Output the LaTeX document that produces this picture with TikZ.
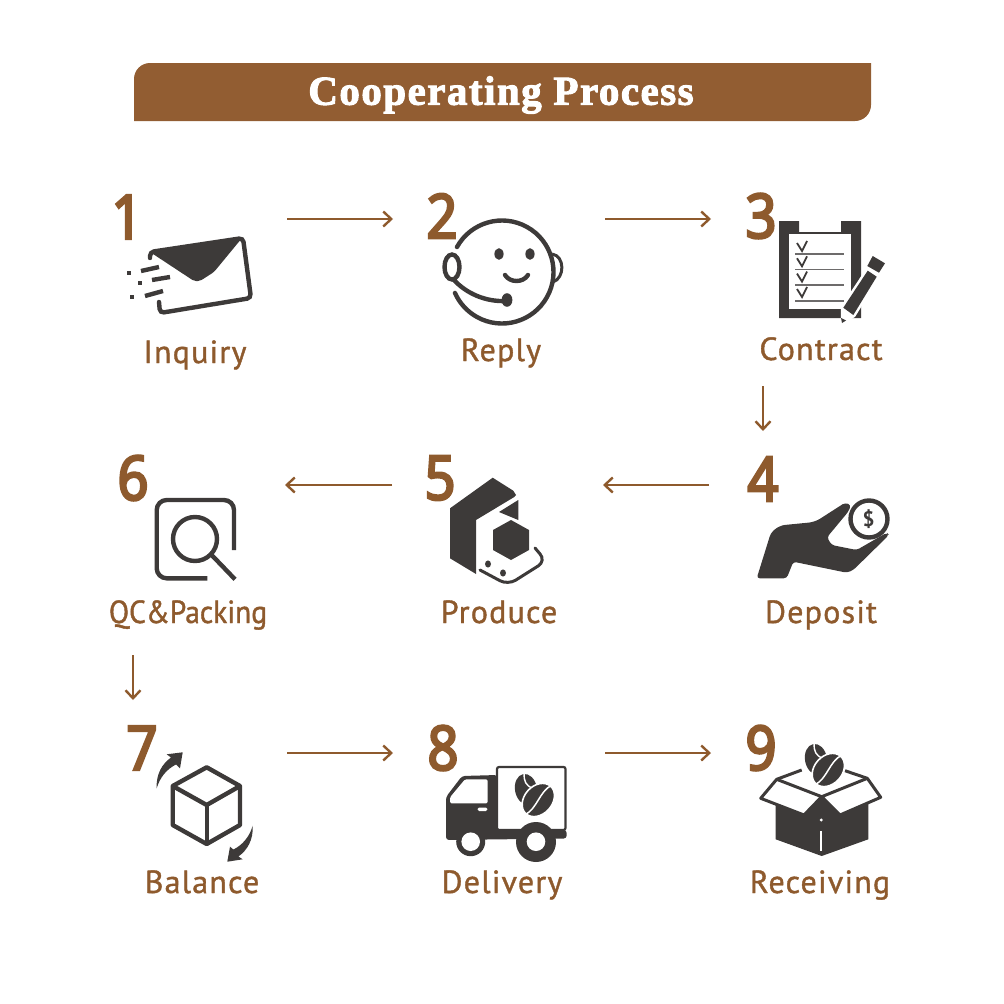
\documentclass[tikz,border=0pt]{standalone}
\usepackage{fontspec}
\usetikzlibrary{arrows.meta}
\setmainfont{PT Sans}
\newfontfamily\titlefont[LetterSpace=3.6,FakeBold=2.4]{Liberation Serif Bold}
\newfontfamily\labelfont[LetterSpace=3.8,FakeBold=1.2]{PT Sans}
\newfontfamily\numfont[FakeStretch=0.88,FakeBold=4.5]{Open Sans}
\definecolor{brownbar}{HTML}{925D32}
\definecolor{brownline}{HTML}{8E5A2D}
\definecolor{darkicon}{HTML}{3D3A39}
\tikzset{
  flowarrow/.style={draw=brownline,line width=2.4pt,-{Straight Barb[length=8pt,width=15pt,line width=2.4pt]}},
  stepnum/.style={text=brownline,font=\numfont\fontsize{61}{61}\selectfont,inner sep=0pt},
  steplabel/.style={text=brownline,anchor=base,inner sep=0pt,font=\labelfont\fontsize{32}{32}\selectfont},
  iconline/.style={draw=darkicon,line width=4.4pt},
  iconfill/.style={fill=darkicon,draw=none},
}
\newcommand{\coffeebean}[2]{%
\begin{scope}[shift={(#1,#2)}]
\begin{scope}[shift={(-12.3,-10.7)},rotate=10]
\fill[darkicon](0,0)ellipse[x radius=11,y radius=15.5];
\draw[white,line width=1.4pt](1,-16)..controls(-1,-8)and(1,-4)..(6,0);
\end{scope}
\begin{scope}[rotate=48]
\filldraw[fill=darkicon,draw=white,line width=1.6pt](0,0)ellipse[x radius=18.5,y radius=14];
\draw[white,line width=1.5pt](-20,0)..controls(-7,5)and(7,-5)..(20,0);
\end{scope}
\end{scope}}
\begin{document}
\begin{tikzpicture}[x=1pt,y=-1pt]
\useasboundingbox(0,0)rectangle(1004,1004);
%title bar
\fill[brownbar](134,121)--(134,79)arc(180:270:16)--(871,63)--(871,105)arc(0:90:16)--cycle;
\node[text=white,inner sep=0pt,font=\titlefont\fontsize{41}{41}\selectfont](title)at(501,95){Cooperating Process};
%numbers
\foreach \i/\x/\y in {1/127/217,2/442/216,3/761/216,4/763/479,5/440/478,6/133/478,7/142/748,8/443/748,9/761/748}{\node[stepnum](n\i)at(\x,\y){\i};}
%labels
\foreach \n/\x/\y/\t in {inquiry/195/363/Inquiry,reply/501/361/Reply,contract/821/360/Contract,deposit/821/623/Deposit,produce/499/623/Produce,qcpacking/188/623/{\addfontfeature{LetterSpace=0,FakeStretch=0.92}QC\&Packing},balance/202/893/Balance,delivery/502/893/Delivery,receiving/820/893/Receiving}{\node[steplabel](\n)at(\x,\y){\t};}
%connectors
\foreach \n/\xa/\ya/\xb/\yb in {a/287/219/393/219,b/605/219/711/219,c/763/386/763/431,d/709/485/603/485,e/392/485/285/485,f/133/655/133/700,g/287/753/393/753,h/605/753/711/753}{
\coordinate(\n s)at(\xa,\ya);\coordinate(\n t)at(\xb,\yb);
\draw[flowarrow](\n s)--(\n t);}
%envelope
\fill[darkicon,rounded corners=2pt](150,252)--(242,238)--(214,272)--(200,281)--(194,281)--cycle;
\draw[iconline,rounded corners=4pt,line cap=round](159,302)--(160,313)--(251,298)--(243,238)--(150,252)--(150,258);
\foreach \xa/\ya/\xb/\yb in {141/271/159/267,152/280/170/277,145/296/163/291}{\draw[iconline](\xa,\ya)--(\xb,\yb);}
\foreach \xa/\ya in {129/273,140/283,132/297}{\fill[darkicon](\xa-2.2,\ya-2.2)rectangle(\xa+2.2,\ya+2.2);}
%face
\draw[iconline,line cap=round](502,272)++(209:51.5)arc(209:516:51.5);
\fill[darkicon](499,254)ellipse[x radius=4.6,y radius=5.8];
\fill[darkicon](530,254)ellipse[x radius=4.6,y radius=5.8];
\draw[iconline,line cap=round](505,275)..controls(510,283)and(523,283)..(528,275);
\draw[iconline,fill=white](452,267)ellipse[x radius=7.5,y radius=12.5];
\draw[iconline,line cap=round](454,280)..controls(466,293)and(485,302)..(506,301);
\fill[darkicon](507,300)ellipse[x radius=5.4,y radius=6.8];
\draw[iconline,line width=3pt](552,254)..controls(565,256)and(565,278)..(553,282);
%clipboard
\fill[darkicon](779,221)--(799,221)--(799,232)--(841,232)--(841,221)--(861,221)--(861,318)--(779,318)--cycle;
\fill[white](789,234)rectangle(851,309);
\foreach \y in {254,269.3,285,301}{\draw[darkicon!75,line width=1.4pt](795,\y)--(844,\y);}
\foreach \y in {0,15.3,30.6,46}{\draw[darkicon,line width=1.8pt](797,243+\y)--(802,251+\y)--(807,241+\y);}
\filldraw[white,draw=white,line width=5pt](867.7,270.7)--(876.7,276.7)--(853.3,315)--(843.3,321)--(843.3,307.7)--cycle;
\fill[darkicon](867.7,270.7)--(876.7,276.7)--(853.3,315)--(843.3,307.7)--cycle;
\fill[darkicon](872.7,256)--(885,263.3)--(879,272.7)--(867.3,266)--cycle;
\fill[darkicon](841,318)--(846,320.5)--(842,323)--cycle;
%hand
\fill[darkicon,rounded corners=3pt](756.7,578.3)--(770.7,533.3)[rounded corners=6pt]--(779,525.5)--(815,522)[rounded corners=3pt]--(845,502.7)--(851,505)--(848.3,511.7)--(827,537.3)--(831.7,545)--(856.7,550)--(886.7,532.7)--(889,535)--(853.3,570)--(846.7,572.7)--(793.3,561.7)--(786.7,578.3)--cycle;
\draw[iconline,fill=white](869,519)circle[radius=18.5];
\node[text=darkicon,inner sep=0pt,font=\bfseries\fontsize{21}{21}\selectfont](dollar)at(868.5,519){\$};
%machine
\fill[darkicon](450,508.3)--(492.7,477.7)--(513.3,490.7)--(516,495)--(514.3,497)--(476,520)--(476,574)--(450,558.3)--cycle;
\fill[darkicon](499,512)--(515,502)--(518.3,500)--(518.3,520)--(511,517)--cycle;
\fill[darkicon](511,520)--(529,530)--(529,550)--(511,560)--(493,550)--(493,530)--cycle;
\draw[iconline,line width=3pt,rounded corners=9pt,line cap=round](535,548)--(546,561)--(508,585)--(480,570);
\fill[darkicon](488,564)ellipse[x radius=3,y radius=3.6];
\fill[darkicon](503,573)ellipse[x radius=3,y radius=3.6];
%magnifier
\draw[iconline,rounded corners=10pt](234,550)--(234,500)--(156.7,500)--(156.7,578.3)--(207.3,578.3);
\draw[iconline](195,539)circle[radius=22];
\draw[iconline](210.7,554)--(235,579.3);
%cube
\draw[iconline,line join=round](206.7,767.3)--(240,786)--(240,825)--(206.7,844)--(172.7,825)--(172.7,786)--cycle;
\draw[iconline,line join=round](172.7,786)--(206.7,805)--(240,786);
\draw[iconline](206.7,805)--(206.7,844);
\fill[darkicon](156.7,788.3)..controls(156,774)and(162,764)..(171,757.5)--(166.7,754.3)--(182.7,752.3)--(180,768.3)--(176,764.5)..controls(167,769)and(160,777)..cycle;
\fill[darkicon](252.7,825.7)..controls(253.4,840)and(247.4,850)..(238.4,856.5)--(242.7,859.3)--(227.3,861.7)--(230,846.7)--(233.4,849.5)..controls(242.4,845)and(249.4,837)..cycle;
%truck
\filldraw[fill=white,draw=darkicon,line width=2.2pt,rounded corners=2pt](497,767)rectangle(565.5,830);
\fill[darkicon,rounded corners=3pt](446,797)--(462,776)--(497.5,775)--(497.5,830)--(566.7,830)--(566.7,838.5)--(446,840)--cycle;
\fill[darkicon](536,842)circle[radius=20];
\fill[darkicon](470.7,841.7)circle[radius=14.5];
\fill[darkicon](536,841.7)circle[radius=14.5];
\fill[white](470.7,841.7)circle[radius=9.3];
\fill[white](536,841.7)circle[radius=9.3];
\fill[white,rounded corners=1.5pt](450,803.3)--(450,797.3)--(465,779.3)--(487.7,779.3)--(487.7,803.3)--cycle;
\fill[white,rounded corners=1.5pt](477.7,807.5)rectangle(487.3,811);
\coffeebean{538.3}{800}
%box
\fill[darkicon](775.7,803.3)--(804,815)--(821.7,796.7)--(840,815)--(868.3,803.3)--(868.3,839.3)--(821.7,856)--(775.7,839.3)--cycle;
\draw[iconline,line width=3pt,line join=round](776.7,779.3)--(821.7,796.7)--(804,815)--(760.7,798.3)--cycle;
\draw[iconline,line width=3pt,line join=round](867.3,778.3)--(821.7,796.7)--(840,815)--(880.7,797.3)--cycle;
\draw[iconline,line width=3pt](776.7,779.3)--(801.7,770);
\draw[iconline,line width=3pt](845,770.7)--(867.3,778.3);
\draw[white,line width=1.8pt](821.3,831)--(821.3,851);
\fill[white](821.3,820)circle[radius=1.6];
\coffeebean{828.3}{770}
\end{tikzpicture}
\end{document}
